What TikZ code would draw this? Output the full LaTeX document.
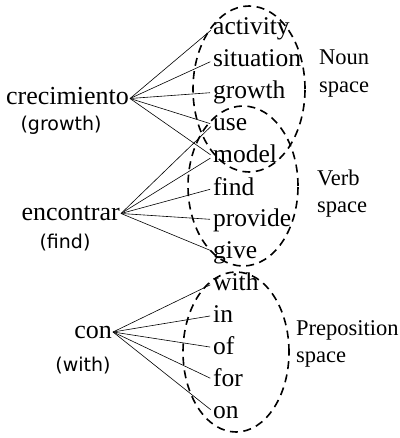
\documentclass[tikz,border=0pt]{standalone}
\usepackage{fontspec}
\setmainfont{Liberation Serif}
\newfontfamily\glossfont{DejaVu Sans}
\usetikzlibrary{shapes.geometric, positioning}

\begin{document}
\begin{tikzpicture}[x=1pt, y=-1pt,
  word/.style={anchor=west, inner sep=0pt, text height=18pt, text depth=5pt, font=\fontsize{25.5}{28}\selectfont},
  src/.style={anchor=east, inner sep=1pt, text height=18pt, text depth=5pt, font=\fontsize{26}{28}\selectfont},
  gloss/.style={font=\glossfont\fontsize{19}{22}\selectfont},
  wspace/.style={draw, ellipse, dash pattern=on 8pt off 5.5pt, line width=1.6pt, inner sep=0pt},
  lbl/.style={align=left, anchor=west, inner sep=0pt, font=\fontsize{22.5}{27.5}\selectfont},
  link/.style={line width=0.6pt, shorten >=3pt}
]
\useasboundingbox (0,0) rectangle (399,438);

% Spaces (dashed ellipses)
\node[wspace, minimum width=112pt, minimum height=166pt] (nounsp) at (249,89) {};
\node[wspace, minimum width=110pt, minimum height=160pt] (verbsp) at (243,186) {};
\node[wspace, minimum width=106pt, minimum height=160pt] (prepsp) at (236,352) {};

\node[lbl] (nounlbl) at (319,73.5) {Noun\\space};
\node[lbl] (verblbl) at (317,193.5) {Verb\\space};
\node[lbl] (preplbl) at (296,344) {Preposition\\space};

% Source words
\node[src] (cre) at (130,98.5) {crecimiento};
\node[gloss] (creg) at (61,125) {(growth)};
\node[src] (enc) at (121,213.5) {encontrar};
\node[gloss] (encg) at (65,243) {(find)};
\node[src] (con) at (113,332) {con};
\node[gloss] (cong) at (83,366) {(with)};

% Target words
\node[word] (activity) at (213,28.5) {activity};
\node[word] (situation) at (213,60.5) {situation};
\node[word] (growth) at (213,92.5) {growth};
\node[word] (use) at (213,124.5) {use};
\node[word] (model) at (213,156.5) {model};
\node[word] (find) at (213,188.5) {find};
\node[word] (provide) at (213,219.5) {provide};
\node[word] (give) at (213,251.5) {give};
\node[word] (with) at (213,283.5) {with};
\node[word] (in) at (213,315.5) {in};
\node[word] (of) at (213,347.5) {of};
\node[word] (for) at (213,379.5) {for};
\node[word] (on) at (213,411.5) {on};

% crecimiento
\draw[link] (cre.east) -- (activity.west);
\draw[link] (cre.east) -- (situation.west);
\draw[link] (cre.east) -- (growth.west);
\draw[link] (cre.east) -- (use.west);
\draw[link] (cre.east) -- (model.west);

% encontrar
\draw[link] (enc.east) -- (use.west);
\draw[link] (enc.east) -- (model.west);
\draw[link] (enc.east) -- (find.west);
\draw[link] (enc.east) -- (provide.west);
\draw[link] (enc.east) -- (give.west);

% con
\draw[link] (con.east) -- (with.west);
\draw[link] (con.east) -- (in.west);
\draw[link] (con.east) -- (of.west);
\draw[link] (con.east) -- (for.west);
\draw[link] (con.east) -- (on.west);

\end{tikzpicture}
\end{document}
